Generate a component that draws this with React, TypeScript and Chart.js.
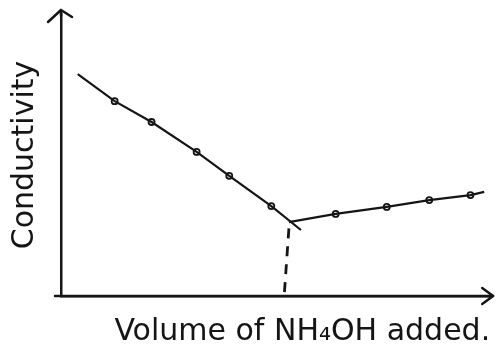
import React, { useEffect, useRef } from "react";
import { Chart, registerables } from "chart.js";

Chart.register(...registerables);

// Falling branch (before equivalence point)
const fallingX = [0.39, 1.25, 2.11, 3.16, 3.92, 4.9, 5.59];
const fallingY = [7.87, 6.91, 6.17, 5.11, 4.26, 3.19, 2.34];
// Rising branch (after equivalence point)
const risingX = [5.31, 6.4, 7.59, 8.58, 9.54, 9.86];
const risingY = [2.62, 2.91, 3.16, 3.4, 3.58, 3.69];
// Measured points (markers)
const markerX = [1.25, 2.11, 3.16, 3.92, 4.9, 6.4, 7.59, 8.58, 9.54];
const markerY = [6.91, 6.17, 5.11, 4.26, 3.19, 2.91, 3.16, 3.4, 3.58];
// Equivalence point drop line
const dropX = [5.31, 5.2];
const dropY = [2.4, 0];

const xTitle = "Volume of NH\u2084OH added.";
const yTitle = "Conductivity";

const toPts = (xs: number[], ys: number[]) => xs.map((x, i) => ({ x, y: ys[i] }));

const INK = "#151515";
const FONT = "'DejaVu Sans', sans-serif";

const arrowPlugin = {
  id: "axisArrows",
  afterDraw(chart: any) {
    const { ctx, chartArea } = chart;
    const { left, right, top, bottom } = chartArea;
    ctx.save();
    ctx.strokeStyle = INK;
    ctx.lineWidth = 2.5;
    ctx.lineCap = "round";
    ctx.lineJoin = "round";
    // y axis extension + arrow
    ctx.beginPath();
    ctx.moveTo(left, top + 2);
    ctx.lineTo(left, top - 4);
    ctx.moveTo(left - 13, top + 8);
    ctx.lineTo(left, top - 4);
    ctx.lineTo(left + 11, top + 3);
    ctx.stroke();
    // x axis extension + arrow
    ctx.beginPath();
    ctx.moveTo(left - 6, bottom);
    ctx.lineTo(right + 3, bottom);
    ctx.moveTo(right - 8, bottom - 8);
    ctx.lineTo(right + 3, bottom);
    ctx.lineTo(right - 8, bottom + 8);
    ctx.stroke();
    ctx.restore();
  },
};

export default function App() {
  const ref = useRef<HTMLCanvasElement | null>(null);
  useEffect(() => {
    if (!ref.current) return;
    const chart = new Chart(ref.current, {
      type: "line",
      data: {
        datasets: [
          {
            data: toPts(fallingX, fallingY),
            borderColor: INK,
            borderWidth: 2.2,
            pointRadius: 0,
            tension: 0,
          },
          {
            data: toPts(risingX, risingY),
            borderColor: INK,
            borderWidth: 2.2,
            pointRadius: 0,
            tension: 0,
          },
          {
            data: toPts(dropX, dropY),
            borderColor: INK,
            borderWidth: 2.8,
            borderDash: [10, 8],
            pointRadius: 0,
          },
          {
            data: toPts(markerX, markerY),
            showLine: false,
            pointRadius: 3,
            pointBorderWidth: 1.8,
            pointBorderColor: INK,
            pointBackgroundColor: "#ffffff",
          },
        ],
      },
      options: {
        animation: false,
        responsive: false,
        layout: { padding: { top: 14, right: 4, left: 0, bottom: 0 } },
        plugins: { legend: { display: false }, tooltip: { enabled: false } },
        scales: {
          x: {
            type: "linear",
            min: 0,
            max: 10,
            ticks: { display: false },
            grid: { display: false, drawTicks: false },
            border: { display: true, color: INK, width: 2.5 },
            title: {
              display: true,
              text: xTitle,
              align: "end",
              color: INK,
              font: { family: FONT, size: 30 },
              padding: { top: 18, bottom: 1 },
            },
          },
          y: {
            type: "linear",
            min: 0,
            max: 10,
            ticks: { display: false },
            grid: { display: false, drawTicks: false },
            border: { display: true, color: INK, width: 2.5 },
            title: {
              display: true,
              text: yTitle,
              color: INK,
              font: { family: FONT, size: 30 },
              padding: { top: 7, bottom: 18 },
            },
          },
        },
      },
      plugins: [arrowPlugin],
    });
    return () => chart.destroy();
  }, []);
  return (
    <div style={{ position: "fixed", left: 0, top: 0, width: 496, height: 351, background: "#fff" }}>
      <canvas ref={ref} width={496} height={351} style={{ display: "block" }} />
    </div>
  );
}
